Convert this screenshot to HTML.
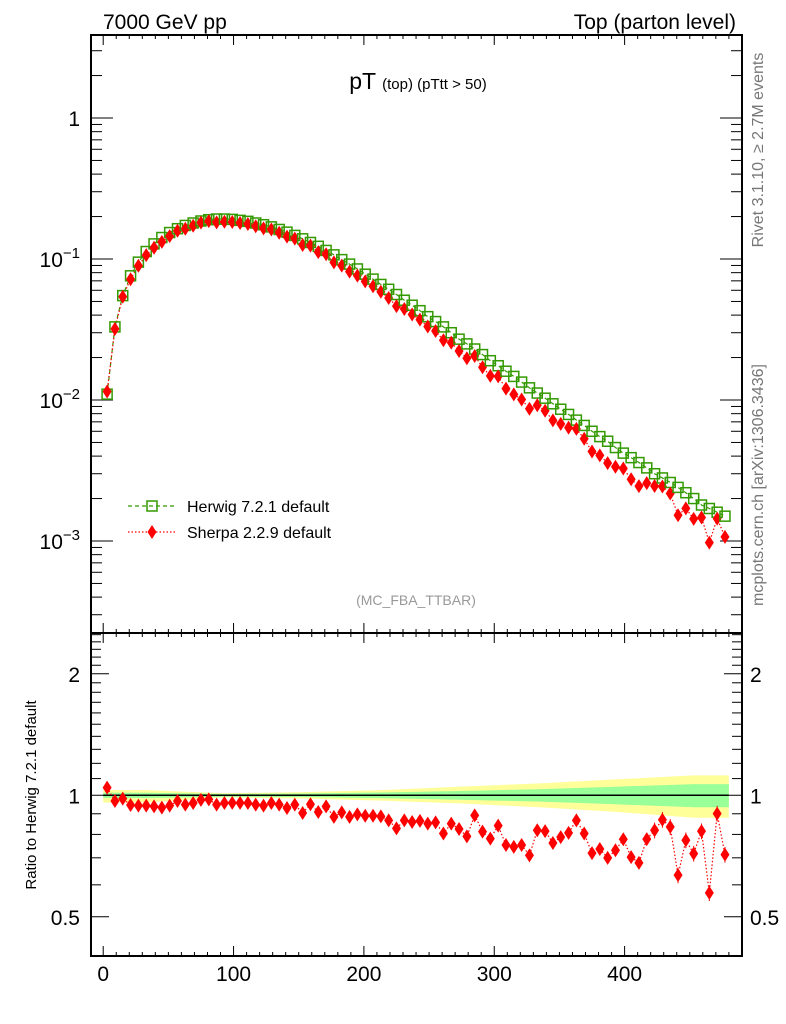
<!DOCTYPE html>
<html><head><meta charset="utf-8">
<style>
html,body{margin:0;padding:0;background:#fff;}
svg{display:block;font-family:"Liberation Sans",Arial,sans-serif;}
</style></head>
<body>
<svg id="chart" width="786" height="1024" viewBox="0 0 786 1024" xmlns="http://www.w3.org/2000/svg">
<text x="103" y="29" font-size="21">7000 GeV pp</text>
<text x="736" y="29" font-size="21" text-anchor="end">Top (parton level)</text>
<text x="418" y="89" text-anchor="middle" font-size="23">pT <tspan font-size="15">(top) (pTtt &gt; 50)</tspan></text>
<text transform="translate(763,150) rotate(-90)" text-anchor="middle" font-size="16" fill="#777">Rivet 3.1.10, ≥ 2.7M events</text>
<text transform="translate(763,485) rotate(-90)" text-anchor="middle" font-size="16" fill="#777">mcplots.cern.ch [arXiv:1306.3436]</text>
<text x="416" y="605" text-anchor="middle" font-size="14" fill="#999">(MC_FBA_TTBAR)</text>
<text transform="translate(36,795) rotate(-90)" text-anchor="middle" font-size="15">Ratio to Herwig 7.2.1 default</text>
<g id="layer"></g>
<g>
 <line x1="128" y1="506" x2="176" y2="506" stroke="#339900" stroke-width="1.3" stroke-dasharray="4,3"/>
 <rect x="147" y="501" width="10" height="10" fill="none" stroke="#339900" stroke-width="1.5"/>
 <text x="187" y="512" font-size="16">Herwig 7.2.1 default</text>
 <line x1="128" y1="532" x2="176" y2="532" stroke="red" stroke-width="1.3" stroke-dasharray="1.5,2"/>
 <polygon points="152,525 156.5,532 152,539 147.5,532" fill="red"/>
 <text x="187" y="538" font-size="16">Sherpa 2.2.9 default</text>
</g>
</svg>
<script>
const binCenters=[3,9,15,21,27,33,39,45,51,57,63,69,75,81,87,93,99,105,111,117,123,129,135,141,147,153,159,165,171,177,183,189,195,201,207,213,219,225,231,237,243,249,255,261,267,273,279,285,291,297,303,309,315,321,327,333,339,345,351,357,363,369,375,381,387,393,399,405,411,417,423,429,435,441,447,453,459,465,471,477];
const herwigValues=[0.011,0.033,0.055,0.076,0.095,0.113,0.128,0.142,0.154,0.164,0.173,0.180,0.186,0.190,0.192,0.192,0.191,0.188,0.185,0.180,0.175,0.169,0.162,0.155,0.147,0.139,0.131,0.123,0.115,0.107,0.099,0.092,0.085,0.078,0.072,0.066,0.061,0.056,0.051,0.047,0.043,0.039,0.036,0.033,0.030,0.027,0.025,0.023,0.021,0.019,0.0175,0.016,0.0147,0.0134,0.0122,0.0112,0.0103,0.0094,0.0086,0.0079,0.0072,0.0066,0.0060,0.0055,0.0051,0.0046,0.0042,0.0039,0.0036,0.0033,0.0030,0.0028,0.0026,0.0024,0.0022,0.0020,0.0018,0.0017,0.0016,0.0015];
const sherpaRatio=[1.045,0.968,0.981,0.946,0.943,0.943,0.939,0.932,0.943,0.968,0.948,0.957,0.974,0.977,0.948,0.957,0.958,0.958,0.957,0.948,0.943,0.957,0.948,0.930,0.948,0.904,0.950,0.909,0.939,0.884,0.907,0.884,0.897,0.890,0.890,0.887,0.867,0.828,0.867,0.859,0.864,0.851,0.857,0.804,0.851,0.825,0.791,0.892,0.813,0.781,0.841,0.753,0.745,0.753,0.710,0.819,0.815,0.762,0.788,0.807,0.867,0.804,0.719,0.736,0.700,0.731,0.778,0.703,0.680,0.779,0.819,0.870,0.835,0.634,0.774,0.717,0.815,0.573,0.901,0.713];
const sherpaErrGroups=[0.02,0.01,0.01,0.012,0.015,0.022,0.03,0.045];
const greenBandGroups=[0.015,0.008,0.01,0.016,0.025,0.035,0.05,0.066];
const yellowUpGroups=[0.03,0.012,0.018,0.03,0.05,0.07,0.095,0.12];
const yellowDnGroups=[0.04,0.012,0.018,0.03,0.045,0.065,0.09,0.12];
const mainYTicks=[0,-1,-2,-3];
const mainYLabels=["1","10","10","10"];
const mainYExps=["","−1","−2","−3"];
const ratioTicks=[0.5,1,2];
const ratioLabels=["0.5","1","2"];
const xTicks=[0,100,200,300,400];
const xLabels=["0","100","200","300","400"];

const NS="http://www.w3.org/2000/svg";
const L=91,R=742,MT=35,MB=633,RT=633,RB=956;
const X=v=>103.2+1.3035*v;
const Y=v=>118-141*Math.log10(v);
const RY=r=>795.3-121.5*Math.log2(r);
const layer=document.getElementById('layer');
function mk(tag,attrs,parent){const e=document.createElementNS(NS,tag);for(const k in attrs)e.setAttribute(k,attrs[k]);(parent||layer).appendChild(e);return e;}

function band(upG,dnG,color,name){
  const xs=[X(0)],ups=[upG[0]],dns=[dnG[0]];
  upG.forEach((u,k)=>{xs.push(X(binCenters[Math.min(79,10*k+5)]));ups.push(u);dns.push(dnG[k]);});
  xs.push(X(480));ups.push(upG[upG.length-1]);dns.push(dnG[dnG.length-1]);
  const top=xs.map((x,i)=>x+','+RY(1+ups[i]));
  const bot=xs.map((x,i)=>x+','+RY(1-dns[i])).reverse();
  const p=mk('polygon',{points:top.concat(bot).join(' '),fill:color});
  
  
}
band(yellowUpGroups,yellowDnGroups,'#ffff99','ratio-band-outer');
band(greenBandGroups,greenBandGroups,'#99ff99','ratio-band-inner');
const rl=mk('line',{x1:X(0),x2:X(480),y1:RY(1),y2:RY(1),stroke:'#000','stroke-width':1.5});



[[MT,MB],[RT,RB]].forEach((f,k)=>{const r=mk('rect',{x:L,y:f[0],width:R-L,height:f[1]-f[0],fill:'none',stroke:'#000','stroke-width':2});
 
 });

for(let v=0;v<=480;v+=10){const maj=v%100===0;const len=maj?10:4;
 [MT,MB,RT,RB].forEach((yy,k)=>{const d=(k%2===0)?1:-1;
  const t=mk('line',{x1:X(v),x2:X(v),y1:yy,y2:yy+d*len,stroke:'#000','stroke-width':1});
  
  });}
xTicks.forEach((v,i)=>{const t=mk('text',{x:X(v),y:981,'text-anchor':'middle','font-size':21});t.textContent=xLabels[i];
 
 });

for(let d=-4;d<=0;d++){for(let m=1;m<=9;m++){const v=m*Math.pow(10,d);const y=Y(v);if(y<MT||y>MB)continue;const len=m===1?22:11;
 [[L,1],[R,-1]].forEach(s=>{const t=mk('line',{x1:s[0],x2:s[0]+s[1]*len,y1:y,y2:y,stroke:'#000','stroke-width':1});
 
 });}}
mainYTicks.forEach((e,i)=>{const y=Y(Math.pow(10,e));
 const t=mk('text',{x:80,y:y+8,'text-anchor':'end','font-size':21});
 t.textContent=mainYLabels[i];
 if(mainYExps[i]){const s=document.createElementNS(NS,'tspan');s.setAttribute('dy','-9');s.setAttribute('font-size','15');s.textContent=mainYExps[i];t.appendChild(s);}
 
 });

for(let k=4;k<=25;k++){const v=k/10;const y=RY(v);if(y<RT+1||y>RB-1)continue;const maj=(v===0.5||v===1||v===2);const len=maj?18:10;
 [[L,1],[R,-1]].forEach(s=>{const t=mk('line',{x1:s[0],x2:s[0]+s[1]*len,y1:y,y2:y,stroke:'#000','stroke-width':1});
 
 });}
ratioTicks.forEach((v,i)=>{[[80,'end'],[750,'start']].forEach(s=>{const t=mk('text',{x:s[0],y:RY(v)+8,'text-anchor':s[1],'font-size':21});t.textContent=ratioLabels[i];
 
 });});

const hp=binCenters.map((c,i)=>X(c)+','+Y(herwigValues[i])).join(' ');
const hl=mk('polyline',{points:hp,fill:'none',stroke:'#339900','stroke-width':1.2,'stroke-dasharray':'4,3'});


const sv=binCenters.map((c,i)=>herwigValues[i]*sherpaRatio[i]);
const sl=mk('polyline',{points:binCenters.map((c,i)=>X(c)+','+Y(sv[i])).join(' '),fill:'none',stroke:'red','stroke-width':1.2,'stroke-dasharray':'1.5,2'});


const rpl=mk('polyline',{points:binCenters.map((c,i)=>X(c)+','+RY(sherpaRatio[i])).join(' '),fill:'none',stroke:'red','stroke-width':1.2,'stroke-dasharray':'1.5,2'});



function diamond(x,y,name){const p=mk('polygon',{points:`${x},${y-7} ${x+4.5},${y} ${x},${y+7} ${x-4.5},${y}`,fill:'red'});
 
 }
binCenters.forEach((c,i)=>{
 const x=X(c);
 const sq=mk('rect',{x:x-5,y:Y(herwigValues[i])-5,width:10,height:10,fill:'none',stroke:'#339900','stroke-width':1.5});
 
 
 const e=sherpaErrGroups[Math.floor(i/10)];
 const eb=mk('line',{x1:x,x2:x,y1:Y(sv[i]*(1+e)),y2:Y(sv[i]*(1-e)),stroke:'red','stroke-width':1});
 
 
 diamond(x,Y(sv[i]),'sherpa-point');
 const rb=mk('line',{x1:x,x2:x,y1:RY(sherpaRatio[i]*(1+e)),y2:RY(sherpaRatio[i]*(1-e)),stroke:'red','stroke-width':1,'stroke-dasharray':'2,1.5'});
 
 
 diamond(x,RY(sherpaRatio[i]),'ratio-sherpa-point');
});
</script>
</body></html>
